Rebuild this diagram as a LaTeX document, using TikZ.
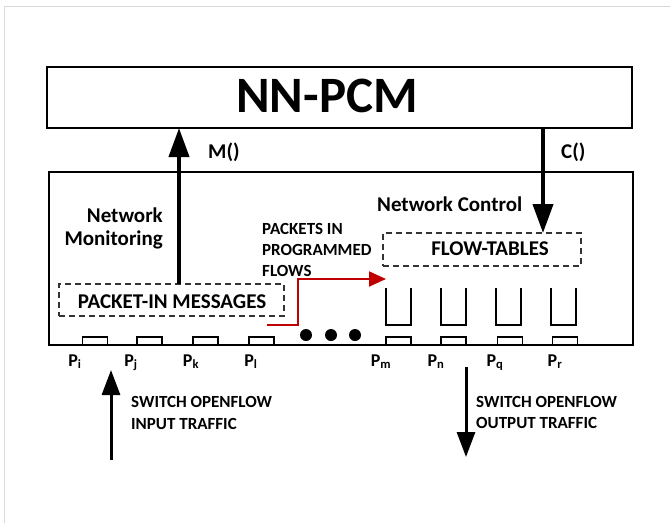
\documentclass[tikz,border=0pt]{standalone}
\usepackage{fontspec}
\setmainfont{Carlito}
\usetikzlibrary{arrows.meta}
\definecolor{flowred}{RGB}{192,0,0}
\begin{document}
\begin{tikzpicture}[x=1pt,y=-1pt,
  box/.style={draw, line width=2.5pt, inner sep=0pt, outer sep=0pt},
  dbox/.style={draw=black!80, dash pattern=on 6pt off 4pt, line width=1.2pt, inner sep=0pt, outer sep=0pt},
  portbox/.style={draw, line width=1.5pt, minimum width=25pt, minimum height=8pt, inner sep=0pt, outer sep=0pt},
  big/.style={font=\bfseries\fontsize{51}{55}\selectfont, inner sep=0pt},
  lbl/.style={font=\bfseries\fontsize{21}{24}\selectfont, inner sep=0pt},
  note/.style={font=\bfseries\fontsize{17}{20}\selectfont, inner sep=0pt},
  portlbl/.style={font=\bfseries\fontsize{18}{20}\selectfont, inner sep=0pt},
  bigarrow/.style={line width=4pt, -{Triangle[length=29pt,width=20pt]}},
  trafficarrow/.style={line width=3pt, -{Triangle[length=25pt,width=18pt]}},
  redarrow/.style={draw=flowred, line width=2pt, -{Triangle[length=17pt,width=15pt]}},
  queue/.style={line width=2pt}
]
\useasboundingbox (0,0) rectangle (670,523);
% faint page frame
\draw[black!15, line width=1pt] (4,523) -- (4,6) -- (670,6);

% controller box
\node[box, minimum width=585pt, minimum height=61pt] (pcm) at (339.5,97.5) {};
\node[big, anchor=base] (pcmtext) at (327,112) {NN-PCM};

% switch box
\node[box, minimum width=584pt, minimum height=173pt] (sw) at (341,258.5) {};

% dashed boxes
\node[dbox, minimum width=225pt, minimum height=32pt] (pin) at (171.5,300) {};
\node[lbl, anchor=base] (pintext) at (172,308) {PACKET-IN MESSAGES};
\node[dbox, minimum width=198pt, minimum height=33pt] (ft) at (482,249.5) {};
\node[lbl, anchor=base] (fttext) at (490,255) {FLOW-TABLES};

% labels inside the switch
\node[lbl, anchor=base east] (mon1) at (163,222) {Network};
\node[lbl, anchor=base east] (mon2) at (163,245) {Monitoring};
\node[lbl, anchor=base west] (ctl) at (377,211) {Network Control};
\node[note, anchor=base west] (pk1) at (262,234) {PACKETS IN};
\node[note, anchor=base west] (pk2) at (262,255) {PROGRAMMED};
\node[note, anchor=base west] (pk3) at (262,276) {FLOWS};

% monitoring and control arrows
\coordinate (mx) at (179,0);
\coordinate (cx) at (543,0);
\draw[bigarrow] (pin.north -| mx) -- (pcm.south -| mx);
\draw[bigarrow] (pcm.south -| cx) -- (ft.north -| cx);
\node[lbl, anchor=base west] (mlab) at (208,158) {M()};
\node[lbl, anchor=base west] (clab) at (561,158) {C()};

% packets routed into programmed flows
\coordinate (rs) at (267,325);
\coordinate (q1) at (386,279);
\draw[redarrow] (rs) -- (298,325) |- (q1);

% ellipsis dots
\foreach \i/\x in {1/306,2/331,3/355}
  \fill (\x,335) circle[radius=6pt] coordinate (dot\i);

% output queues
\foreach \x in {386,441,496,551}
  \draw[queue] (\x,288) -- (\x,325) -- (\x+25,325) -- (\x+25,288);

% switch ports
\foreach \n/\x/\s/\lx in {i/95/i/75, j/149.5/j/131, k/205.5/k/191, l/261.5/l/251,
                          m/398.5/m/381, n/453.5/n/436, q/510/q/495, r/565/r/555}
{
  \node[portbox] (port\n) at (\x,341) {};
  \node[portlbl, anchor=base] (plab\n) at (\lx,366) {P\textsubscript{\s}};
}

% traffic in and out
\coordinate (inlow) at (111,460);
\coordinate (outlow) at (466,457);
\draw[trafficarrow] (inlow) -- (inlow |- 0,370);
\draw[trafficarrow] (outlow |- 0,367) -- (outlow);
\node[note, anchor=base west] (in1) at (131,407) {SWITCH OPENFLOW};
\node[note, anchor=base west] (in2) at (131,429) {INPUT TRAFFIC};
\node[note, anchor=base west] (out1) at (476,407) {SWITCH OPENFLOW};
\node[note, anchor=base west] (out2) at (476,428) {OUTPUT TRAFFIC};
\end{tikzpicture}
\end{document}
